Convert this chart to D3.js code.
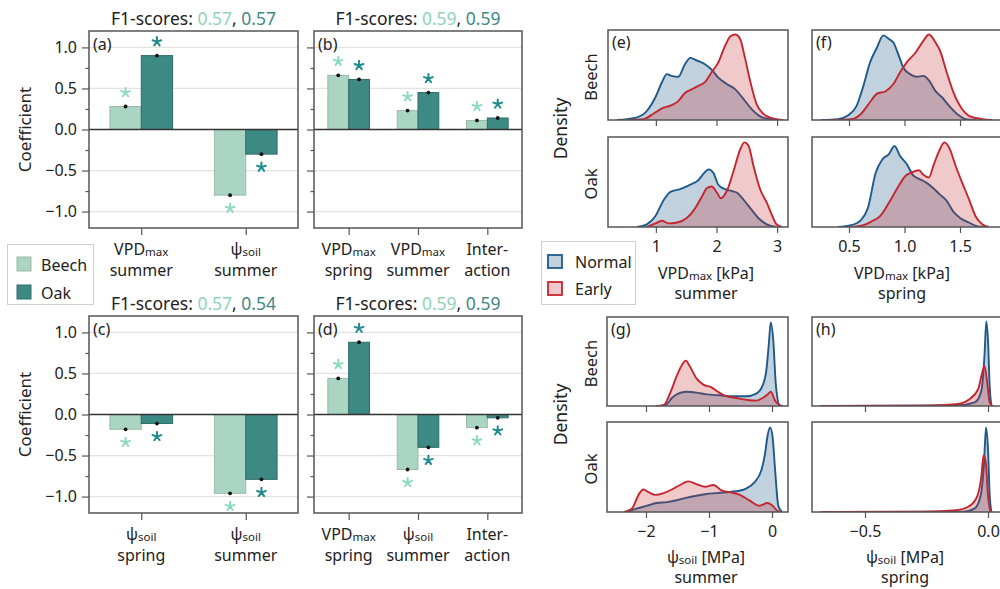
<!DOCTYPE html>
<html><head><meta charset="utf-8">
<script src="https://cdn.jsdelivr.net/npm/d3@7"></script>
<style>
body{margin:0;background:#fff}
svg{display:block}
text{font-family:'Noto Sans','Open Sans',sans-serif;fill:#222}
</style>
</head><body><script>
// ---------------- DATA ----------------
const catsA = ["VPD|max|summer", "ψ|soil|summer"];
const beechA = [0.28, -0.80];
const oakA = [0.90, -0.30];
const catsB = ["VPD|max|spring", "VPD|max|summer", "Inter-||action"];
const beechB = [0.66, 0.23, 0.11];
const oakB = [0.61, 0.45, 0.14];
const catsC = ["ψ|soil|spring", "ψ|soil|summer"];
const beechC = [-0.18, -0.96];
const oakC = [-0.11, -0.79];
const catsD = ["VPD|max|spring", "ψ|soil|summer", "Inter-||action"];
const beechD = [0.44, -0.67, -0.16];
const oakD = [0.88, -0.40, -0.04];
const f1Beech = [0.57, 0.59, 0.57, 0.59];
const f1Oak = [0.57, 0.59, 0.54, 0.59];
const coefTicks = [-1.0, -0.5, 0.0, 0.5, 1.0];
const coefMinor = [-0.75, -0.25, 0.25, 0.75];

// densities: [x, relative density]
const eBeechNormal = [[0.36,0],[0.69,0.03],[0.85,0.10],[0.99,0.25],[1.10,0.42],[1.18,0.51],[1.26,0.49],[1.37,0.48],[1.48,0.62],[1.57,0.69],[1.68,0.66],[1.81,0.62],[1.92,0.56],[2.03,0.47],[2.17,0.40],[2.31,0.34],[2.45,0.23],[2.58,0.12],[2.72,0.04],[2.88,0.01],[3.0,0]];
const eBeechEarly = [[0.52,0],[0.80,0.01],[0.96,0.07],[1.10,0.13],[1.24,0.16],[1.37,0.21],[1.48,0.30],[1.59,0.34],[1.70,0.38],[1.81,0.42],[1.92,0.53],[2.03,0.64],[2.14,0.82],[2.23,0.93],[2.31,0.95],[2.39,0.90],[2.47,0.69],[2.55,0.45],[2.66,0.18],[2.77,0.07],[2.91,0.02],[3.10,0]];
const eOakNormal = [[0.69,0],[0.85,0.03],[0.99,0.12],[1.13,0.30],[1.24,0.39],[1.40,0.42],[1.57,0.47],[1.70,0.52],[1.81,0.61],[1.87,0.64],[1.95,0.60],[2.03,0.47],[2.14,0.42],[2.25,0.40],[2.34,0.38],[2.45,0.30],[2.58,0.19],[2.69,0.10],[2.83,0.03],[2.99,0]];
const eOakEarly = [[0.85,0],[0.99,0.04],[1.10,0.07],[1.21,0.04],[1.35,0.05],[1.51,0.10],[1.65,0.21],[1.76,0.34],[1.84,0.43],[1.92,0.45],[2.01,0.38],[2.07,0.32],[2.17,0.40],[2.28,0.62],[2.39,0.86],[2.46,0.94],[2.53,0.90],[2.61,0.68],[2.72,0.42],[2.83,0.27],[2.91,0.14],[2.99,0.03],[3.08,0]];
const fBeechNormal = [[0.25,0],[0.40,0.01],[0.49,0.05],[0.57,0.16],[0.63,0.38],[0.69,0.64],[0.75,0.80],[0.81,0.94],[0.86,0.90],[0.90,0.86],[0.95,0.71],[0.99,0.58],[1.05,0.51],[1.11,0.48],[1.17,0.49],[1.22,0.44],[1.28,0.32],[1.34,0.25],[1.40,0.16],[1.48,0.06],[1.55,0.01],[1.64,0]];
const fBeechEarly = [[0.34,0],[0.52,0.01],[0.61,0.07],[0.69,0.20],[0.75,0.29],[0.83,0.32],[0.90,0.40],[0.96,0.53],[1.02,0.64],[1.10,0.75],[1.17,0.88],[1.22,0.95],[1.28,0.86],[1.32,0.77],[1.38,0.53],[1.44,0.31],[1.52,0.12],[1.59,0.04],[1.70,0.01],[1.79,0]];
const fOakNormal = [[0.40,0],[0.52,0.02],[0.61,0.08],[0.67,0.21],[0.74,0.60],[0.80,0.75],[0.86,0.81],[0.91,0.90],[0.96,0.79],[1.02,0.70],[1.08,0.57],[1.14,0.53],[1.20,0.49],[1.26,0.43],[1.32,0.36],[1.38,0.29],[1.44,0.17],[1.50,0.10],[1.58,0.05],[1.65,0.01],[1.72,0]];
const fOakEarly = [[0.52,0],[0.63,0.02],[0.70,0.06],[0.78,0.12],[0.86,0.27],[0.93,0.42],[1.01,0.57],[1.07,0.61],[1.13,0.63],[1.17,0.58],[1.22,0.55],[1.26,0.68],[1.31,0.84],[1.36,0.94],[1.41,0.86],[1.46,0.68],[1.52,0.49],[1.58,0.31],[1.64,0.12],[1.70,0.03],[1.76,0]];
const gBeechNormal = [[-1.77,0],[-1.67,0.02],[-1.59,0.09],[-1.49,0.14],[-1.36,0.16],[-1.20,0.15],[-1.04,0.13],[-0.83,0.12],[-0.62,0.11],[-0.41,0.11],[-0.25,0.14],[-0.15,0.23],[-0.09,0.40],[-0.05,0.70],[-0.02,0.94],[0.02,0.74],[0.06,0.25],[0.12,0.01],[0.17,0]];
const gBeechEarly = [[-1.85,0],[-1.72,0.01],[-1.62,0.14],[-1.51,0.34],[-1.43,0.46],[-1.37,0.51],[-1.30,0.44],[-1.20,0.31],[-1.09,0.24],[-0.96,0.21],[-0.86,0.16],[-0.73,0.11],[-0.57,0.09],[-0.41,0.07],[-0.25,0.06],[-0.15,0.09],[-0.07,0.13],[-0.02,0.16],[0.05,0.06],[0.14,0]];
const gOakNormal = [[-2.30,0],[-2.14,0.04],[-1.98,0.07],[-1.83,0.10],[-1.67,0.11],[-1.51,0.13],[-1.35,0.16],[-1.20,0.18],[-1.04,0.20],[-0.88,0.21],[-0.72,0.22],[-0.57,0.23],[-0.41,0.26],[-0.28,0.33],[-0.17,0.46],[-0.11,0.65],[-0.07,0.85],[-0.03,0.94],[0.01,0.83],[0.05,0.46],[0.10,0.07],[0.16,0]];
const gOakEarly = [[-2.35,0],[-2.22,0.04],[-2.12,0.19],[-2.04,0.25],[-1.96,0.22],[-1.85,0.19],[-1.72,0.21],[-1.59,0.25],[-1.46,0.30],[-1.33,0.34],[-1.20,0.31],[-1.06,0.28],[-0.93,0.30],[-0.80,0.24],[-0.67,0.22],[-0.51,0.19],[-0.36,0.13],[-0.20,0.07],[-0.07,0.10],[0.01,0.07],[0.09,0.01],[0.14,0]];
const hBeechNormal = [[-0.68,0],[-0.13,0.005],[-0.054,0.04],[-0.027,0.17],[-0.014,0.58],[-0.007,0.95],[0.0,0.74],[0.007,0.21],[0.014,0]];
const hBeechEarly = [[-0.68,0],[-0.26,0.004],[-0.13,0.02],[-0.074,0.08],[-0.04,0.19],[-0.023,0.38],[-0.014,0.45],[-0.004,0.28],[0.007,0.04],[0.018,0]];
const hOakNormal = [[-0.68,0],[-0.10,0.004],[-0.054,0.04],[-0.03,0.18],[-0.016,0.55],[-0.008,0.94],[0.0,0.70],[0.007,0.18],[0.014,0]];
const hOakEarly = [[-0.68,0],[-0.26,0.004],[-0.13,0.02],[-0.074,0.07],[-0.043,0.18],[-0.027,0.40],[-0.018,0.63],[-0.009,0.55],[0.0,0.18],[0.01,0]];
const ticksE = [1, 2, 3];
const ticksF = [0.5, 1.0, 1.5];
const ticksG = [-2, -1, 0];
const ticksH = [-0.5, 0.0];

// ---------------- STYLE ----------------
const C = {
  beechFill: "#a9d5c2", beechStroke: "#9db9ad", oakFill: "#3d8984", oakStroke: "#2e6c68",
  beechStar: "#8edbbc", oakStar: "#1e8a8e", beechTxt: "#8fd4b6", oakTxt: "#3f8985",
  normal: "#1f5a8a", early: "#c4262f", frame: "#555", grid: "#e3e3e3", text: "#222"
};
const FS = { title: 17.5, tick: 16, lab: 16, panel: 16, coef: 17, dens: 17.5, row: 16.5, sub: 11.5 };

const svg = d3.select("body").append("svg").attr("width", 1000).attr("height", 589);

function asterisk(g, cx, cy, color) {
  const r = 4.6;
  let d = "";
  for (let k = 0; k < 5; k++) {
    const a = -Math.PI / 2 + k * 2 * Math.PI / 5;
    d += `M${cx},${cy}L${cx + r * Math.cos(a)},${cy + r * Math.sin(a)}`;
  }
  g.append("path").attr("d", d).attr("stroke", color).attr("stroke-width", 2).attr("stroke-linecap", "round").attr("fill", "none");
}

function barPanel(p) {
  const g = svg.append("g");
  const x = d3.scalePoint().domain(p.cats).range([p.x0, p.x1]).padding(0.5);
  const y = d3.scaleLinear().domain([-1.2, 1.2]).range([p.y1, p.y0]);
  const bw = x.step() * 0.3;
  g.selectAll(".grid").data(coefTicks.filter(v => v !== 0)).join("line")
    .attr("x1", p.x0).attr("x2", p.x1).attr("y1", d => y(d)).attr("y2", d => y(d))
    .attr("stroke", C.grid).attr("stroke-width", 1.3);
  const series = [
    { vals: p.beech, fill: C.beechFill, stroke: C.beechStroke, star: C.beechStar, off: -1 },
    { vals: p.oak, fill: C.oakFill, stroke: C.oakStroke, star: C.oakStar, off: 0 }
  ];
  series.forEach(s => {
    p.cats.forEach((c, i) => {
      const v = s.vals[i];
      const bx = x(c) + s.off * bw;
      g.append("rect").attr("x", bx).attr("width", bw)
        .attr("y", Math.min(y(v), y(0))).attr("height", Math.abs(y(v) - y(0)))
        .attr("fill", s.fill).attr("stroke", s.stroke).attr("stroke-width", 1);
    });
  });
  g.append("line").attr("x1", p.x0).attr("x2", p.x1).attr("y1", y(0)).attr("y2", y(0))
    .attr("stroke", "#333").attr("stroke-width", 1.5);
  series.forEach(s => {
    p.cats.forEach((c, i) => {
      const v = s.vals[i];
      const cx = x(c) + s.off * bw + bw / 2;
      g.append("circle").attr("cx", cx).attr("cy", y(v)).attr("r", 1.9).attr("fill", "#111");
      asterisk(g, cx, v >= 0 ? y(v) - 14 : y(v) + 13, s.star);
    });
  });
  g.append("rect").attr("x", p.x0).attr("y", p.y0).attr("width", p.x1 - p.x0).attr("height", p.y1 - p.y0)
    .attr("fill", "none").attr("stroke", C.frame).attr("stroke-width", 1.5);
  const ya = g.append("g").attr("transform", `translate(${p.x0},0)`)
    .call(d3.axisLeft(y).tickValues(coefTicks).tickSize(7).tickPadding(5)
      .tickFormat(p.labels ? d3.format(".1f") : () => ""));
  ya.select(".domain").remove();
  ya.selectAll("line").attr("stroke", C.frame).attr("stroke-width", 1.2);
  ya.selectAll("text").attr("font-size", FS.tick).attr("fill", C.text).style("font-family", null);
  const ym = g.append("g").attr("transform", `translate(${p.x0},0)`)
    .call(d3.axisLeft(y).tickValues(coefMinor).tickSize(3.5).tickFormat(() => ""));
  ym.select(".domain").remove();
  ym.selectAll("line").attr("stroke", C.frame).attr("stroke-width", 1.2);
  const xa = g.append("g").attr("transform", `translate(0,${p.y1})`)
    .call(d3.axisBottom(x).tickSize(7).tickFormat(() => ""));
  xa.select(".domain").remove();
  xa.selectAll("line").attr("stroke", C.frame).attr("stroke-width", 1.2);
  p.cats.forEach(c => {
    const [main, sub, l2] = c.split("|");
    const t = g.append("text").attr("x", x(c)).attr("y", p.y1 + 27).attr("text-anchor", "middle").attr("font-size", FS.lab);
    t.append("tspan").text(main);
    if (sub) t.append("tspan").attr("font-size", FS.sub).attr("dy", 1).text(sub);
    g.append("text").attr("x", x(c)).attr("y", p.y1 + 48).attr("text-anchor", "middle").attr("font-size", FS.lab).text(l2);
  });
  const tt = g.append("text").attr("x", (p.x0 + p.x1) / 2).attr("y", p.y0 - 6).attr("text-anchor", "middle").attr("font-size", FS.title);
  tt.append("tspan").text("F1-scores: ");
  tt.append("tspan").attr("fill", C.beechTxt).text(d3.format(".2f")(p.f1b));
  tt.append("tspan").text(", ");
  tt.append("tspan").attr("fill", C.oakTxt).text(d3.format(".2f")(p.f1o));
  g.append("text").attr("x", p.x0 + 4).attr("y", p.y0 + 19).attr("font-size", FS.panel).text(p.lab);
  if (p.labels) {
    g.append("text").attr("transform", `translate(31,${y(0)}) rotate(-90)`).attr("text-anchor", "middle")
      .attr("font-size", FS.coef).text("Coefficient");
  }
}

barPanel({ cats: catsA, beech: beechA, oak: oakA, x0: 89, x1: 298, y0: 31, y1: 228, labels: true, lab: "(a)", f1b: f1Beech[0], f1o: f1Oak[0] });
barPanel({ cats: catsB, beech: beechB, oak: oakB, x0: 314, x1: 522, y0: 31, y1: 228, labels: false, lab: "(b)", f1b: f1Beech[1], f1o: f1Oak[1] });
barPanel({ cats: catsC, beech: beechC, oak: oakC, x0: 89, x1: 298, y0: 316, y1: 513, labels: true, lab: "(c)", f1b: f1Beech[2], f1o: f1Oak[2] });
barPanel({ cats: catsD, beech: beechD, oak: oakD, x0: 314, x1: 522, y0: 316, y1: 513, labels: false, lab: "(d)", f1b: f1Beech[3], f1o: f1Oak[3] });

// bar legend
{
  const g = svg.append("g");
  g.append("rect").attr("x", 7.5).attr("y", 244.5).attr("width", 86).attr("height", 60).attr("fill", "#fff").attr("stroke", "#d0d0d0");
  [["Beech", C.beechFill, C.beechStroke, 257], ["Oak", C.oakFill, C.oakStroke, 285]].forEach(([n, f, s, yy]) => {
    g.append("rect").attr("x", 17).attr("y", yy).attr("width", 14).attr("height", 14).attr("fill", f).attr("stroke", s);
    g.append("text").attr("x", 41).attr("y", yy + 13.5).attr("font-size", FS.lab).text(n);
  });
}

// ---------------- DENSITY PANELS ----------------
let clipId = 0;
function densPanel(p) {
  const g = svg.append("g");
  const x = d3.scaleLinear().domain(p.dom).range([p.x0, p.x1]);
  p.rows.forEach((r, i) => {
    const y = d3.scaleLinear().domain([0, 1]).range([r.y1, r.y0]);
    const id = "clip" + (clipId++);
    g.append("clipPath").attr("id", id).append("rect").attr("x", p.x0).attr("y", r.y0).attr("width", p.x1 - p.x0).attr("height", r.y1 - r.y0);
    const cg = g.append("g").attr("clip-path", `url(#${id})`);
    const area = d3.area().x(d => x(d[0])).y0(y(0)).y1(d => y(d[1])).curve(d3.curveMonotoneX);
    const line = d3.line().x(d => x(d[0])).y(d => y(d[1])).curve(d3.curveMonotoneX);
    [[r.normal, C.normal, 0.28], [r.early, C.early, 0.25]].forEach(([data, col, op]) => {
      cg.append("path").datum(data).attr("d", area).attr("fill", col).attr("fill-opacity", op);
      cg.append("path").datum(data).attr("d", line).attr("fill", "none").attr("stroke", col).attr("stroke-width", 1.9);
    });
    g.append("rect").attr("x", p.x0).attr("y", r.y0).attr("width", p.x1 - p.x0).attr("height", r.y1 - r.y0)
      .attr("fill", "none").attr("stroke", C.frame).attr("stroke-width", 1.5);
    const last = i === p.rows.length - 1;
    const xa = g.append("g").attr("transform", `translate(0,${r.y1})`)
      .call(d3.axisBottom(x).tickValues(p.ticks).tickSize(6).tickPadding(8)
        .tickFormat(last ? p.fmt : () => ""));
    xa.select(".domain").remove();
    xa.selectAll("line").attr("stroke", C.frame).attr("stroke-width", 1.2);
    xa.selectAll("text").attr("font-size", FS.tick).attr("fill", C.text).style("font-family", null);
    if (p.rowLabels) {
      g.append("text").attr("transform", `translate(597,${(r.y0 + r.y1) / 2 + 2}) rotate(-90)`)
        .attr("text-anchor", "middle").attr("font-size", FS.row).text(r.name);
    }
  });
  g.append("text").attr("x", p.x0 + 4).attr("y", p.rows[0].y0 + 18).attr("font-size", FS.panel).text(p.lab);
  const t = g.append("text").attr("x", p.tx).attr("y", p.ty).attr("text-anchor", "middle").attr("font-size", FS.lab);
  t.append("tspan").text(p.t1[0]);
  t.append("tspan").attr("font-size", FS.sub).attr("dy", 1).text(p.t1[1]);
  t.append("tspan").attr("dy", -1).text(p.t1[2]);
  g.append("text").attr("x", p.tx).attr("y", p.ty + 20).attr("text-anchor", "middle").attr("font-size", FS.lab).text(p.t2);
  if (p.rowLabels) {
    g.append("text").attr("transform", `translate(567,${(p.rows[0].y0 + p.rows[1].y1) / 2}) rotate(-90)`)
      .attr("text-anchor", "middle").attr("font-size", FS.dens).text("Density");
  }
}

const f1 = d3.format(".1f");
densPanel({ x0: 608, x1: 788, dom: [0.21, 3.18], ticks: ticksE, fmt: d3.format("d"), lab: "(e)", rowLabels: true,
  rows: [{ name: "Beech", y0: 30, y1: 120, normal: eBeechNormal, early: eBeechEarly }, { name: "Oak", y0: 137, y1: 227, normal: eOakNormal, early: eOakEarly }],
  t1: ["VPD", "max", " [kPa]"], t2: "summer", tx: 706, ty: 279 });
densPanel({ x0: 812, x1: 1003, dom: [0.167, 1.887], ticks: ticksF, fmt: f1, lab: "(f)", rowLabels: false,
  rows: [{ name: "Beech", y0: 30, y1: 120, normal: fBeechNormal, early: fBeechEarly }, { name: "Oak", y0: 137, y1: 227, normal: fOakNormal, early: fOakEarly }],
  t1: ["VPD", "max", " [kPa]"], t2: "spring", tx: 902, ty: 279 });
densPanel({ x0: 607, x1: 788, dom: [-2.619, 0.254], ticks: ticksG, fmt: d3.format("d"), lab: "(g)", rowLabels: true,
  rows: [{ name: "Beech", y0: 317, y1: 406, normal: gBeechNormal, early: gBeechEarly }, { name: "Oak", y0: 422, y1: 512, normal: gOakNormal, early: gOakEarly }],
  t1: ["ψ", "soil", " [MPa]"], t2: "summer", tx: 706, ty: 563 });
densPanel({ x0: 812, x1: 1003, dom: [-0.7154, 0.061], ticks: ticksH, fmt: f1, lab: "(h)", rowLabels: false,
  rows: [{ name: "Beech", y0: 317, y1: 406, normal: hBeechNormal, early: hBeechEarly }, { name: "Oak", y0: 422, y1: 512, normal: hOakNormal, early: hOakEarly }],
  t1: ["ψ", "soil", " [MPa]"], t2: "spring", tx: 905, ty: 563 });

// density legend
{
  const g = svg.append("g");
  g.append("rect").attr("x", 541.5).attr("y", 241.5).attr("width", 94).attr("height", 63).attr("fill", "#fff").attr("stroke", "#d0d0d0");
  [["Normal", C.normal, 0.28, 255], ["Early", C.early, 0.25, 282]].forEach(([n, col, op, yy]) => {
    g.append("rect").attr("x", 548).attr("y", yy).attr("width", 14).attr("height", 13)
      .attr("fill", col).attr("fill-opacity", op).attr("stroke", col).attr("stroke-width", 1.8);
    g.append("text").attr("x", 575).attr("y", yy + 13).attr("font-size", FS.lab).text(n);
  });
}
</script></body></html>
